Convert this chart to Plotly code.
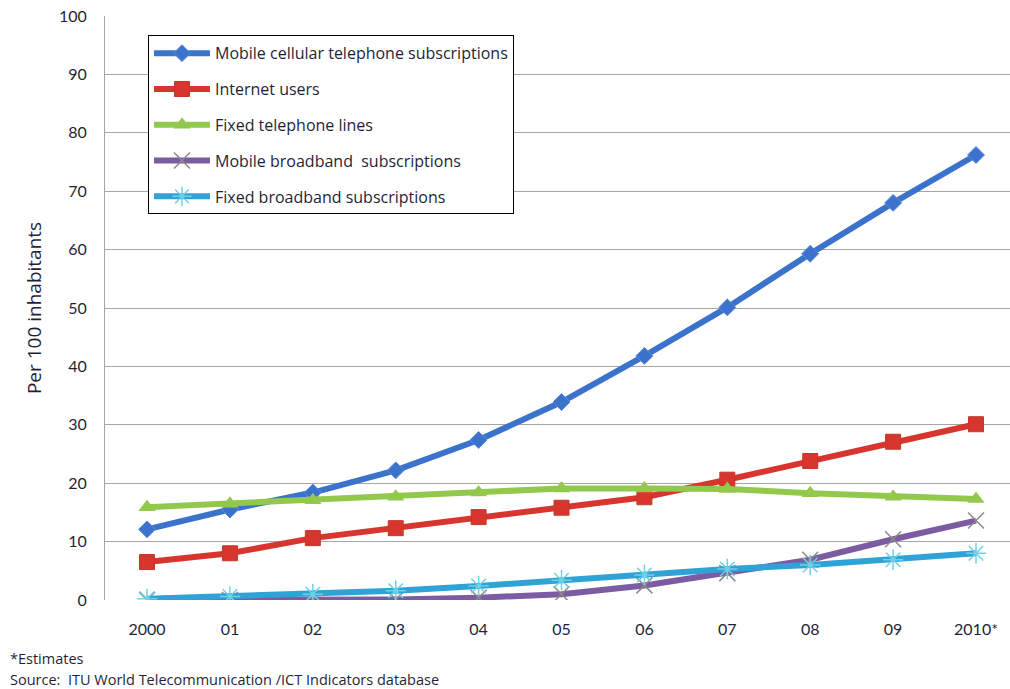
import plotly.graph_objects as go

years = ["2000", "01", "02", "03", "04", "05", "06", "07", "08", "09", "2010*"]

mobile_cellular = [12.1, 15.5, 18.4, 22.2, 27.4, 33.9, 41.8, 50.1, 59.3, 68.0, 76.2]
internet_users = [6.5, 8.0, 10.6, 12.3, 14.2, 15.8, 17.6, 20.6, 23.8, 27.1, 30.1]
fixed_telephone = [15.9, 16.5, 17.1, 17.7, 18.4, 19.1, 19.1, 19.0, 18.3, 17.7, 17.3]
mobile_broadband = [0.0, 0.0, 0.1, 0.1, 0.4, 1.0, 2.5, 4.6, 6.9, 10.4, 13.6]
fixed_broadband = [0.2, 0.6, 1.0, 1.6, 2.4, 3.4, 4.3, 5.3, 6.0, 6.9, 8.0]

y_ticks = [0, 10, 20, 30, 40, 50, 60, 70, 80, 90, 100]

series = [
    ("Mobile cellular telephone subscriptions", mobile_cellular, "#3a72cc",
     dict(symbol="diamond", size=13, color="#3a72cc", line=dict(width=1, color="#5a8ad8"))),
    ("Internet users", internet_users, "#d8352e",
     dict(symbol="square", size=15, color="#d8352e", line=dict(width=1, color="#c0392b"))),
    ("Fixed telephone lines", fixed_telephone, "#92c84c",
     dict(symbol="triangle-up", size=15, color="#92c84c", line=dict(width=0))),
    ("Mobile broadband  subscriptions", mobile_broadband, "#7b5ba1",
     dict(symbol="x-thin-open", size=16, color="#8a8a8a", line=dict(width=1.5, color="#8a8a8a"))),
    ("Fixed broadband subscriptions", fixed_broadband, "#2fa2d6",
     dict(symbol="asterisk-open", size=17, color="#6fd0e6", line=dict(width=1.5, color="#6fd0e6"))),
]

fig = go.Figure()
for i, (name, vals, color, marker) in enumerate(series):
    fig.add_trace(go.Scatter(
        x=years, y=vals, name=name, mode="lines+markers",
        line=dict(color=color, width=6),
        marker=marker,
        legendgroup=f"g{i}",
    ))

tick_font = "Lato, 'Open Sans', sans-serif"
text_font = "'Open Sans', Lato, sans-serif"
ink = "#1f1f38"

fig.update_layout(
    width=1010, height=689,
    margin=dict(l=105, r=0, t=16, b=89, autoexpand=False),
    paper_bgcolor="white", plot_bgcolor="white",
    font=dict(family=text_font, size=15, color=ink),
    showlegend=True,
    legend=dict(
        x=0.0475, y=0.967, xanchor="left", yanchor="top",
        bgcolor="white", bordercolor="black", borderwidth=1,
        font=dict(family=text_font, size=16, color=ink),
        traceorder="grouped", tracegroupgap=12,
        itemwidth=56,
    ),
    xaxis=dict(
        type="category", range=[-0.507, 10.41],
        showgrid=False, zeroline=False,
        showline=False, ticks="",
        tickfont=dict(family=tick_font, size=16, color=ink),
        ticklabelstandoff=18,
    ),
    yaxis=dict(
        range=[0, 100], tickvals=y_ticks,
        showgrid=True, gridcolor="#a6a6a6", gridwidth=1,
        zeroline=False,
        showline=True, linecolor="#a6a6a6", linewidth=1,
        ticks="", tickfont=dict(family=tick_font, size=16, color=ink),
        ticklabelstandoff=14,
        title=dict(text="Per 100 inhabitants",
                   font=dict(family=text_font, size=19, color=ink), standoff=12),
    ),
    annotations=[
        dict(text="*Estimates", xref="paper", yref="paper", x=-0.107, y=-0.1,
             xanchor="left", yanchor="middle", showarrow=False,
             font=dict(family=text_font, size=14.5, color=ink)),
        dict(text="Source:  ITU World Telecommunication /ICT Indicators database",
             xref="paper", yref="paper", x=-0.107, y=-0.1365,
             xanchor="left", yanchor="middle", showarrow=False,
             font=dict(family=text_font, size=14.5, color=ink)),
    ],
)

fig.write_html("out.html")
